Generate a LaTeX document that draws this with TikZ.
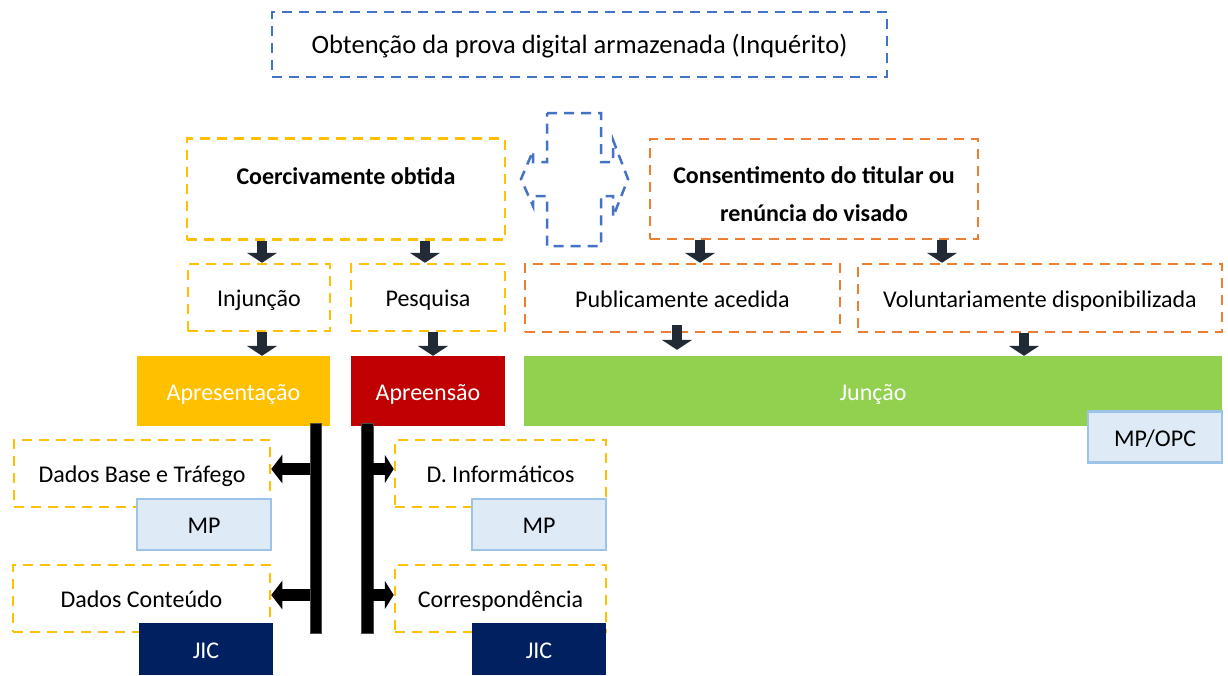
\documentclass[tikz,border=0pt]{standalone}
\usepackage{fontspec}
\setmainfont{Carlito}
\usetikzlibrary{arrows.meta,calc}
\definecolor{ylw}{HTML}{FFC000}
\definecolor{org}{HTML}{ED7D31}
\definecolor{blu}{HTML}{4472C4}
\definecolor{grn}{HTML}{92D050}
\definecolor{rd}{HTML}{C00000}
\definecolor{nav}{HTML}{002060}
\definecolor{lbf}{HTML}{DEEBF7}
\definecolor{lbd}{HTML}{9DC3E6}
\definecolor{arrc}{HTML}{222A35}
\begin{document}
\begin{tikzpicture}[x=1pt,y=-1pt,
  font=\fontsize{24}{29}\selectfont,
  txt/.style={text height=18pt, text depth=0pt},
  dbox/.style={draw, line width=2.5pt, dash pattern=on 10pt off 7pt, inner sep=0pt, txt},
  bbox/.style={dbox, draw=blu},
  ybox/.style={dbox, draw=ylw},
  obox/.style={dbox, draw=org},
  fbox/.style={inner sep=0pt, text=white, minimum height=70pt, txt},
  mpbox/.style={fill=lbf, draw=lbd, line width=2.5pt, inner sep=0pt, minimum width=134pt, minimum height=51pt, txt},
  jicbox/.style={fill=nav, text=white, inner sep=0pt, minimum width=134pt, minimum height=52pt, txt},
  barbox/.style={fill=black, draw=black!70, line width=0.6pt, inner sep=0pt, minimum height=210pt},
  blk/.style={line width=10pt, draw=arrc, -{Triangle[width=30pt,length=10pt]}},
  sidel/.style={line width=12pt, draw=black, -{Triangle[width=28pt,length=11pt]}},
  sider/.style={line width=12pt, draw=black, -{Triangle[width=28pt,length=9pt]}}
]
\fill[white] (0,0) rectangle (1228,675);
\useasboundingbox (0,0) rectangle (1228,675);

% top
\node[bbox, minimum width=615pt, minimum height=65pt, font=\fontsize{26.5}{32}\selectfont, text height=17pt] (top) at (579.5,44.5) {Obtenção da prova digital armazenada (Inquérito)};

% second level
\node[ybox, minimum width=318pt, minimum height=101pt] (coer) at (346,189) {};
\node[font=\fontsize{24}{29}\selectfont\bfseries, txt] (coert) at (346,175.5) {Coercivamente obtida};
\node[obox, minimum width=328pt, minimum height=100pt] (cons) at (814,189) {};
\node[font=\fontsize{24}{38}\selectfont\bfseries, align=center] (const) at (814,194) {Consentimento do titular ou\\renúncia do visado};

% double arrow
\draw[dbox, draw=blu] (547,113) -- (601,113) -- (601,162) -- (613,162) -- (613,140) -- (628,179)
  -- (613,217) -- (613,196) -- (601,196) -- (601,246) -- (547,246) -- (547,196) -- (533,196)
  -- (533,206) -- (521,179) -- (533,151) -- (533,162) -- (547,162) -- cycle;

% third level
\node[ybox, minimum width=142pt, minimum height=67pt] (inj) at (259,297.5) {Injunção};
\node[ybox, minimum width=154pt, minimum height=67pt] (pes) at (428,297.5) {Pesquisa};
\node[obox, minimum width=315pt, minimum height=68pt] (pub) at (682.5,298) {Publicamente acedida};
\node[obox, minimum width=364pt, minimum height=68pt] (vol) at (1040,298) {Voluntariamente disponibilizada};

% filled bars
\node[fbox, fill=ylw, minimum width=193pt] (apr) at (233.5,391) {Apresentação};
\node[fbox, fill=rd, minimum width=154pt] (apre) at (428,391) {Apreensão};
\node[fbox, fill=grn, minimum width=698pt] (jun) at (873,391) {Junção};
\node[mpbox] (mpopc) at (1155,437) {MP/OPC};

% lower boxes
\node[ybox, minimum width=256pt, minimum height=67pt] (dbt) at (142,473.5) {Dados Base e Tráfego};
\node[ybox, minimum width=257pt, minimum height=67pt] (dc) at (141.5,598.5) {Dados Conteúdo};
\node[ybox, minimum width=211pt, minimum height=67pt] (dinf) at (500.5,473.5) {D. Informáticos};
\node[ybox, minimum width=211pt, minimum height=67pt] (corr) at (500.5,598.5) {Correspondência};
\node[mpbox] (mp1) at (204,524.5) {MP};
\node[mpbox] (mp2) at (539,524.5) {MP};
\node[jicbox] (jic1) at (206,649) {JIC};
\node[jicbox] (jic2) at (539,649) {JIC};

% vertical bars
\node[barbox, minimum width=11pt] (barL) at (315.5,528) {};
\node[barbox, minimum width=12pt] (barR) at (367,528) {};

% block arrows
\draw[blk] (coer.south -| 262,0) -- (inj.north -| 262,0);
\draw[blk] (coer.south -| 425,0) -- (pes.north -| 425,0);
\draw[blk] (inj.south -| 262,0) -- (apr.north -| 262,0);
\draw[blk] (pes.south -| 433,0) -- (apre.north -| 433,0);
\draw[blk] (cons.south -| 700,0) -- (pub.north -| 700,0);
\draw[blk] (cons.south -| 942,0) -- (vol.north -| 942,0);
\draw[blk] ($(pub.south -| 677,0)+(0,-8)$) -- ($(jun.north -| 677,0)+(0,-6)$);
\draw[blk] (vol.south -| 1024,0) -- (jun.north -| 1024,0);

% side arrows
\draw[sidel] (barL.west |- 0,469) -- (dbt.east |- 0,469);
\draw[sidel] (barL.west |- 0,595) -- (dc.east |- 0,595);
\draw[sider] (barR.east |- 0,469) -- (dinf.west |- 0,469);
\draw[sider] (barR.east |- 0,595) -- (corr.west |- 0,595);
\end{tikzpicture}
\end{document}
